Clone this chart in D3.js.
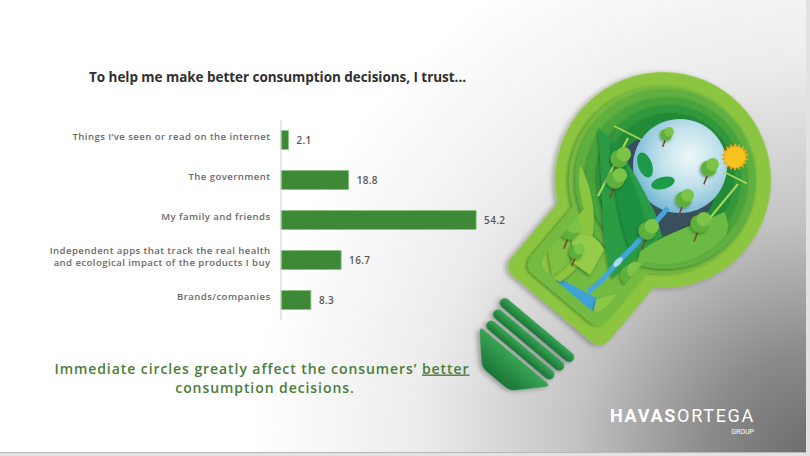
<!DOCTYPE html>
<html>
<head>
<meta charset="utf-8">
<script src="https://cdn.jsdelivr.net/npm/d3@7"></script>
<style>
  body { margin: 0; overflow: hidden; background: #e2e2e2; }
  svg { display: block; }
</style>
</head>
<body>
<svg id="chart" width="810" height="456"></svg>
<script>
// survey answers
const categories = [
  "Things I’ve seen or read on the internet",
  "The government",
  "My family and friends",
  "Independent apps that track the real health\nand ecological impact of the products I buy",
  "Brands/companies"
];
const values = [2.1, 18.8, 54.2, 16.7, 8.3];

const title = "To help me make better consumption decisions, I trust...";
const noteLine1 = "Immediate circles greatly affect the consumers’ ";
const noteUnderlined = "better";
const noteLine2 = "consumption decisions.";

const svg = d3.select("#chart");
const defs = svg.append("defs");

// spread letters so a line spans the same width as on the slide
function fitWidth(sel, target) {
  const n = sel.text().length;
  const len = sel.node().getComputedTextLength();
  const ls = (target - len) / n;
  sel.attr("letter-spacing", ls);
  return ls;
}

// slide background: white fading to grey toward the bottom right
const bg = defs.append("radialGradient").attr("id", "bg")
    .attr("gradientUnits", "userSpaceOnUse")
    .attr("cx", 810).attr("cy", 456).attr("r", 560);
[[0, "#6c6c6c"], [0.18, "#8a8a8a"], [0.42, "#c3c3c3"], [0.7, "#ececec"], [1, "#ffffff"]]
    .forEach(([o, c]) => bg.append("stop").attr("offset", o).attr("stop-color", c));

const sky = defs.append("radialGradient").attr("id", "sky")
    .attr("cx", 0.6).attr("cy", 0.4).attr("r", 0.65);
sky.append("stop").attr("offset", 0).attr("stop-color", "#eef8f8");
sky.append("stop").attr("offset", 0.5).attr("stop-color", "#bfe0ea");
sky.append("stop").attr("offset", 1).attr("stop-color", "#72b6d4");

const base = defs.append("linearGradient").attr("id", "base")
    .attr("x1", 0).attr("y1", 0).attr("x2", 0).attr("y2", 1);
base.append("stop").attr("offset", 0).attr("stop-color", "#38a554");
base.append("stop").attr("offset", 1).attr("stop-color", "#1b7437");

defs.append("filter").attr("id", "shadow").attr("x", "-20%").attr("y", "-20%")
    .attr("width", "140%").attr("height", "140%")
  .append("feDropShadow").attr("dx", -1.5).attr("dy", 2.5)
    .attr("stdDeviation", 2.5).attr("flood-color", "#000").attr("flood-opacity", 0.32);
defs.append("filter").attr("id", "soft").attr("x", "-20%").attr("y", "-20%")
    .attr("width", "140%").attr("height", "140%")
  .append("feDropShadow").attr("dx", -1).attr("dy", 1.5)
    .attr("stdDeviation", 1.4).attr("flood-color", "#0b3d12").attr("flood-opacity", 0.45);

svg.append("rect").attr("width", 806).attr("height", 452).attr("fill", "url(#bg)");
svg.append("line").attr("x1", 0).attr("x2", 806).attr("y1", 452.5).attr("y2", 452.5)
    .attr("stroke", "#b9b9b9");

// ---------- bulb illustration ----------
const bulbCx = 663, bulbCy = 180, bulbTilt = 40;
function bulbPath(d) {
  const r = 108 - d, left = -66 + d, right = 62 - d, bottom = 170 - d, cr = 14;
  return `M${r},0A${r},${r} 0 1 1 ${-r},0A${r},${r} 0 1 1 ${r},0Z` +
    `M${left},20L${right},20L${right},${bottom - cr}Q${right},${bottom} ${right - cr},${bottom}` +
    `L${left + cr},${bottom}Q${left},${bottom} ${left},${bottom - cr}Z`;
}
const tilt = `translate(${bulbCx},${bulbCy}) rotate(${bulbTilt})`;

defs.append("clipPath").attr("id", "cavity")
  .append("path").attr("d", bulbPath(14)).attr("transform", tilt);
defs.append("clipPath").attr("id", "inner")
  .append("path").attr("d", bulbPath(24)).attr("transform", tilt);

const bulb = svg.append("g").attr("transform", tilt);

// screw base
const screw = bulb.append("g").attr("filter", "url(#shadow)");
[[-47, 191, 94], [-45, 204, 90], [-43, 217, 86]].forEach(([x, y, w]) => {
  screw.append("rect").attr("x", x).attr("y", y).attr("width", w).attr("height", 10)
      .attr("rx", 5).attr("fill", "url(#base)");
});
screw.append("path")
    .attr("d", "M-42,230L42,230Q46,230 43,234L22,256Q18,260 12,260L-12,260Q-18,260 -22,256L-43,234Q-46,230 -42,230Z")
    .attr("fill", "url(#base)");

bulb.append("path").attr("d", bulbPath(0)).attr("fill", "#8cc63f").attr("filter", "url(#shadow)");
bulb.append("path").attr("d", bulbPath(14)).attr("fill", "#74bb43").attr("filter", "url(#soft)");

const scene = svg.append("g").attr("clip-path", "url(#cavity)");
[[665, 179, 90, "#5fb041"], [667, 178, 81, "#47a43e"], [669, 177, 72, "#33983c"], [671, 176, 63, "#238b39"]]
    .forEach(([cx, cy, r, c]) => scene.append("circle").attr("cx", cx).attr("cy", cy).attr("r", r)
        .attr("fill", c).attr("filter", "url(#soft)"));
scene.append("circle").attr("cx", 664).attr("cy", 184).attr("r", 52).attr("fill", "#3a4f5c");
scene.append("circle").attr("cx", 680).attr("cy", 166).attr("r", 47).attr("fill", "url(#sky)");

const land = svg.append("g").attr("clip-path", "url(#inner)");
// water along the bottom of the neck
land.append("path").attr("d", "M530,262L600,300L600,340L520,340Z").attr("fill", "#3ea3d4");
const hills = [
  ["M520,110C560,130 585,160 592,200C598,235 590,262 560,282L520,262Z", "#8cc63f"],
  ["M548,150C570,170 580,205 578,240C575,258 565,268 552,276L540,200Z", "#7cbf43"],
  ["M598,128C625,150 640,185 655,212L662,236L612,278C600,240 604,200 598,128Z", "#2b9c45"],
  ["M612,140C628,165 640,200 648,230L630,250C618,215 612,180 612,140Z", "#1f9142"],
  ["M572,238C585,230 598,236 604,250L590,275L572,262Z", "#94cb49"],
  ["M640,252C665,232 695,226 724,212C735,230 722,250 700,262C680,282 652,300 622,324Z", "#6bba44"],
  ["M618,300C650,282 690,266 735,236L760,262L660,360L610,360Z", "#9dd04c"],
  ["M596,300C612,292 630,292 644,304L620,340L590,330Z", "#8bc846"]
];
hills.forEach(([d, c]) => land.append("path").attr("d", d).attr("fill", c).attr("filter", "url(#soft)"));
land.append("path")
    .attr("d", "M668,208L652,226L634,246L618,262L602,280L588,292")
    .attr("fill", "none").attr("stroke", "#45a6da").attr("stroke-width", 5)
    .attr("stroke-linejoin", "round");
[[652, 226], [618, 262]].forEach(([cx, cy]) => land.append("ellipse")
    .attr("cx", cx).attr("cy", cy).attr("rx", 6).attr("ry", 3)
    .attr("transform", `rotate(-45,${cx},${cy})`).attr("fill", "#a9dcf2"));

// wind turbines
[[598, 196, 628, 138], [700, 230, 738, 184]].forEach(([x1, y1, x2, y2]) => {
  land.append("line").attr("x1", x1).attr("y1", y1).attr("x2", x2).attr("y2", y2)
      .attr("stroke", "#a6d65a").attr("stroke-width", 2.2);
  land.append("line").attr("x1", x2 - 14).attr("y1", y2 - 12).attr("x2", x2 + 14).attr("y2", y2 + 2)
      .attr("stroke", "#a6d65a").attr("stroke-width", 1.6);
});

// trees
const trees = [[622, 156, 9], [618, 177, 9], [686, 197, 8], [702, 221, 9], [650, 228, 9],
               [633, 272, 10], [711, 166, 8], [572, 228, 9], [668, 133, 6], [578, 250, 7]];
trees.forEach(([x, y, r]) => {
  land.append("line").attr("x1", x).attr("y1", y).attr("x2", x - r * 0.9).attr("y2", y + r * 2.3)
      .attr("stroke", "#7b4a29").attr("stroke-width", 1.6);
  land.append("circle").attr("cx", x - r * 0.3).attr("cy", y + r * 0.3).attr("r", r)
      .attr("fill", "#5eaf3e").attr("filter", "url(#soft)");
  land.append("circle").attr("cx", x + r * 0.2).attr("cy", y - r * 0.2).attr("r", r * 0.8)
      .attr("fill", "#7cc447");
});
land.append("ellipse").attr("cx", 645).attr("cy", 165).attr("rx", 7).attr("ry", 13)
    .attr("transform", "rotate(-20,645,165)").attr("fill", "#1c9a47");
land.append("ellipse").attr("cx", 663).attr("cy", 183).attr("rx", 12).attr("ry", 6)
    .attr("transform", "rotate(-15,663,183)").attr("fill", "#1c9a47");

// sun
const sun = svg.append("g").attr("transform", "translate(735,157)");
d3.range(18).forEach(i => {
  sun.append("path").attr("d", "M-2,-10L0,-14L2,-10Z").attr("fill", "#f2a21c")
      .attr("transform", `rotate(${i * 20})`);
});
sun.append("circle").attr("r", 10.5).attr("fill", "#f8c21f");

// ---------- bar chart ----------
const x = d3.scaleLinear().domain([0, 60]).range([281, 497]);
const y = d3.scaleBand().domain(categories).range([120, 320])
    .paddingInner(0.525).paddingOuter(0.2625);

const titleText = svg.append("text")
    .attr("x", 89).attr("y", 82)
    .attr("font-family", "'Open Sans', sans-serif").attr("font-weight", 700)
    .attr("font-size", 13.5).attr("fill", "#2f2f2f")
    .text(title);
fitWidth(titleText, 377);

svg.append("g").selectAll("rect")
  .data(values)
  .join("rect")
    .attr("x", x(0))
    .attr("y", (d, i) => y(categories[i]))
    .attr("width", d => x(d) - x(0))
    .attr("height", y.bandwidth())
    .attr("fill", "#3e8937")
    .attr("stroke", "#8cc283").attr("stroke-width", 0.8);

svg.append("g").selectAll("text")
  .data(values)
  .join("text")
    .attr("x", d => x(d) + 8)
    .attr("y", (d, i) => y(categories[i]) + y.bandwidth() / 2)
    .attr("dy", "0.35em")
    .attr("font-family", "'Open Sans', sans-serif").attr("font-weight", 600)
    .attr("font-size", 10).attr("letter-spacing", 0.3).attr("fill", "#585858")
    .text(d => d);

const axis = svg.append("g")
    .attr("transform", "translate(280.5,0)")
    .call(d3.axisLeft(y).tickSize(0).tickPadding(10).tickSizeOuter(0));
axis.select(".domain").attr("stroke", "#cfcfcf");
const labels = axis.selectAll("text")
    .attr("font-family", "'Open Sans', sans-serif").attr("font-weight", 600)
    .attr("font-size", 9.6).attr("fill", "#6a6a6a");
const firstLabel = labels.filter((d, i) => i === 0);
const labelSpacing = fitWidth(firstLabel, 198);
labels.attr("letter-spacing", labelSpacing)
    .each(function(d) {
      const lines = d.split("\n");
      const t = d3.select(this).text(null);
      lines.forEach((l, i) => {
        t.append("tspan").attr("x", -10)
            .attr("dy", i === 0 ? `${-(lines.length - 1) * 0.62}em` : "1.24em")
            .text(l);
      });
    });

// ---------- takeaway ----------
const note1 = svg.append("text")
    .attr("x", 262).attr("y", 373.5).attr("text-anchor", "middle")
    .attr("font-family", "'Open Sans', sans-serif").attr("font-weight", 600)
    .attr("font-size", 14).attr("fill", "#4b7d36");
note1.append("tspan").text(noteLine1);
note1.append("tspan").attr("text-decoration", "underline").text(noteUnderlined);
const noteSpacing = fitWidth(note1, 415);
svg.append("text")
    .attr("x", 265).attr("y", 392.5).attr("text-anchor", "middle")
    .attr("font-family", "'Open Sans', sans-serif").attr("font-weight", 600)
    .attr("font-size", 14).attr("fill", "#4b7d36").attr("letter-spacing", noteSpacing)
    .text(noteLine2);

// ---------- logo ----------
const logo = svg.append("text").attr("x", 610).attr("y", 422).attr("fill", "#fff")
    .attr("font-family", "Roboto, sans-serif").attr("font-size", 18);
logo.append("tspan").attr("font-weight", 700).text("HAVAS");
logo.append("tspan").attr("font-weight", 400).text("ORTEGA");
fitWidth(logo, 145);
svg.append("text").attr("x", 754).attr("y", 434).attr("text-anchor", "end")
    .attr("fill", "#fff").attr("font-family", "Roboto, sans-serif").attr("font-size", 7)
    .text("GROUP");
</script>
</body>
</html>
